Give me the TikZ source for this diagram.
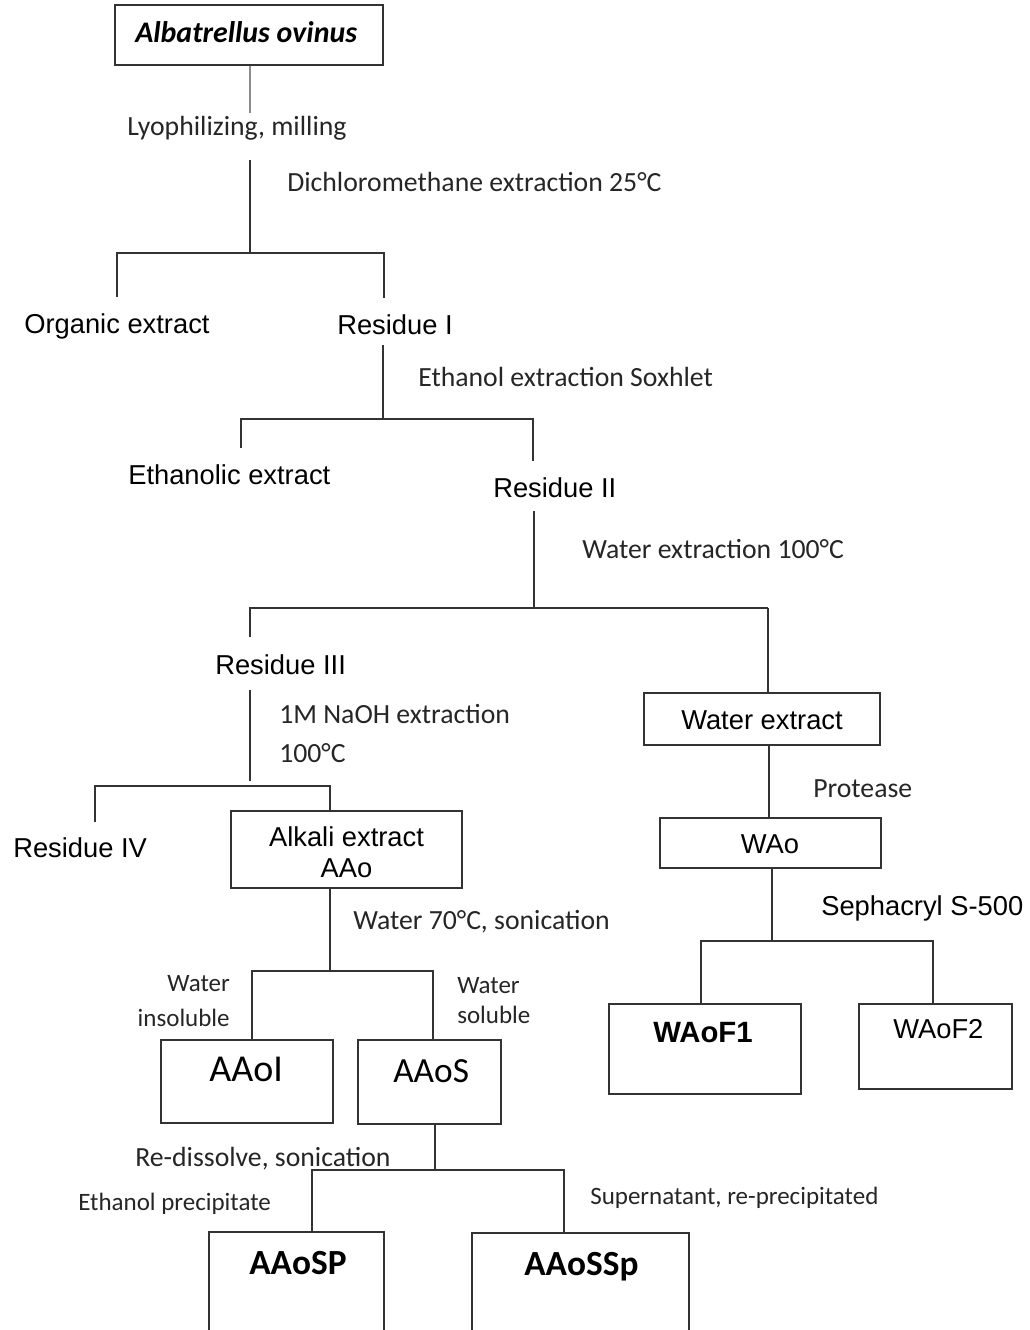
\documentclass[tikz,border=0pt]{standalone}
\usepackage{fontspec}
\setmainfont{Carlito}
\newfontfamily\arial{Liberation Sans}
\usetikzlibrary{fit}
\tikzset{
  lbl/.style={font=\fontsize{20.8}{24}\selectfont, inner sep=0, anchor=base west, text=black!85},
  slbl/.style={font=\fontsize{18.75}{22}\selectfont, inner sep=0, anchor=base west, text=black!85},
  nd/.style={font=\arial\fontsize{20.5}{24}\selectfont, inner sep=0, anchor=base west},
  box/.style={draw=black!80, line width=1.1pt, inner sep=0},
  ln/.style={draw=black!80, line width=1.1pt},
}
\begin{document}
\begin{tikzpicture}[x=0.75pt,y=-0.75pt]
\useasboundingbox (0,0) rectangle (1029,1330);
\clip (0,0) rectangle (1029,1330);
\fill[white] (0,0) rectangle (1029,1330);

% top
\node[box, fit={(115,5) (383,65)}] (top) {};
\node[inner sep=0, anchor=base west, font=\bfseries\itshape\fontsize{22.4}{26}\selectfont] (topT) at (135,43) {Albatrellus ovinus};
\coordinate (c1) at (250,113);
\draw[ln, draw=black!45] (c1 |- top.south) -- (c1);
\node[lbl] (lyo) at (127,136) {Lyophilizing, milling};
\coordinate (c2) at (250,160);
\coordinate (f1) at (250,253);
\draw[ln] (c2) -- (f1);
\node[lbl] (dcm) at (287,192) {Dichloromethane extraction 25°C};
\coordinate (f1l) at (117,253);
\coordinate (f1r) at (384,253);
\coordinate (f1ld) at (117,297);
\coordinate (f1rd) at (384,298);
\draw[ln] (f1ld) -- (f1l) -- (f1r) -- (f1rd);
\node[nd] (org) at (24,333) {Organic extract};
\node[nd] (res1) at (337,334) {Residue I};

% residue I
\coordinate (c3) at (383,345);
\coordinate (f2) at (383,419);
\draw[ln] (c3) -- (f2);
\node[lbl] (eth) at (418,386) {Ethanol extraction Soxhlet};
\coordinate (f2l) at (241,419);
\coordinate (f2r) at (533,419);
\coordinate (f2ld) at (241,448);
\coordinate (f2rd) at (533,461);
\draw[ln] (f2ld) -- (f2l) -- (f2r) -- (f2rd);
\node[nd] (ethx) at (128,484) {Ethanolic extract};
\node[nd] (res2) at (493,497) {Residue II};

% residue II
\coordinate (c4) at (534,511);
\coordinate (f3) at (534,608);
\draw[ln] (c4) -- (f3);
\node[lbl] (wat) at (582,558) {Water extraction 100°C};
\coordinate (f3l) at (250,608);
\coordinate (f3r) at (768,608);
\coordinate (f3ld) at (250,637);
\draw[ln] (f3ld) -- (f3l) -- (f3r);
\node[nd] (res3) at (215,674) {Residue III};

% water extract branch
\node[box, fit={(644,693) (880,745)}] (wext) {};
\node[nd, anchor=base] (wextT) at (762,729) {Water extract};
\draw[ln] (f3r) -- (f3r |- wext.north);
\coordinate (c5) at (769,818);
\node[lbl] (prot) at (813,797) {Protease};
\node[box, fit={(660,818) (881,868)}] (wao) {};
\node[nd, anchor=base] (waoT) at (770,853) {WAo};
\draw[ln] (c5 |- wext.south) -- (c5 |- wao.north);
\coordinate (f4) at (772,941);
\draw[ln] (f4 |- wao.south) -- (f4);
\node[nd] (seph) at (821,915) {Sephacryl S-500};
\coordinate (f4l) at (701,941);
\coordinate (f4r) at (933,941);
\node[box, fit={(609,1004) (801,1094)}] (f1box) {};
\node[box, fit={(859,1004) (1012,1089)}] (f2box) {};
\draw[ln] (f4l |- f1box.north) -- (f4l) -- (f4r) -- (f4r |- f2box.north);
\node[nd, font=\arial\bfseries\fontsize{22}{24}\selectfont] (f1T) at (653,1042) {WAoF1};
\node[nd] (f2T) at (893,1038) {WAoF2};

% residue III
\coordinate (c6) at (250,690);
\coordinate (f5) at (250,781);
\draw[ln] (c6) -- (f5);
\node[lbl] (naoh) at (279,723) {1M NaOH extraction};
\node[lbl] (naoh2) at (279,762) {100°C};
\coordinate (f5l) at (95,786);
\coordinate (f5r) at (330,786);
\coordinate (f5ld) at (95,822);
\node[box, fit={(231,811) (462,888)}] (alk) {};
\draw[ln] (f5ld) -- (f5l) -- (f5r) -- (f5r |- alk.north);
\node[nd] (res4) at (13,857) {Residue IV};
\node[nd, anchor=base] (alkT1) at (346.5,846) {Alkali extract};
\node[nd, anchor=base] (alkT2) at (346.5,877) {AAo};

% alkali branch
\coordinate (f6) at (330,971);
\draw[ln] (f6 |- alk.south) -- (f6);
\node[lbl] (w70) at (353,929) {Water 70°C, sonication};
\coordinate (f6l) at (252,971);
\coordinate (f6r) at (433,971);
\node[box, fit={(161,1040) (333,1123)}] (aaoi) {};
\node[box, fit={(358,1040) (501,1124)}] (aaos) {};
\draw[ln] (f6l |- aaoi.north) -- (f6l) -- (f6r) -- (f6r |- aaos.north);
\node[slbl, anchor=base east] (wi1) at (230,991) {Water};
\node[slbl, anchor=base east] (wi2) at (230,1026) {insoluble};
\node[slbl] (ws1) at (457,993) {Water};
\node[slbl] (ws2) at (457,1023) {soluble};
\node[inner sep=0, anchor=base west, font=\fontsize{28.5}{30}\selectfont] (aaoiT) at (209,1081) {AAoI};
\node[inner sep=0, anchor=base west, font=\fontsize{26.5}{30}\selectfont] (aaosT) at (393,1082) {AAoS};

% AAoS branch
\coordinate (f7) at (435,1170);
\draw[ln] (f7 |- aaos.south) -- (f7);
\node[lbl] (redis) at (135,1166) {Re-dissolve, sonication};
\coordinate (f7l) at (312,1170);
\coordinate (f7r) at (564,1170);
\node[box, fit={(209,1232) (384,1345)}] (sp) {};
\node[box, fit={(472,1233) (689,1345)}] (ssp) {};
\draw[ln] (f7l |- sp.north) -- (f7l) -- (f7r) -- (f7r |- ssp.north);
\node[slbl] (etp) at (78,1210) {Ethanol precipitate};
\node[slbl] (sup) at (590,1204) {Supernatant, re-precipitated};
\node[inner sep=0, anchor=base west, font=\bfseries\fontsize{26.5}{28}\selectfont] (spT) at (249,1274) {AAoSP};
\node[inner sep=0, anchor=base west, font=\bfseries\fontsize{26.5}{28}\selectfont] (sspT) at (524,1275) {AAoSSp};
\end{tikzpicture}
\end{document}
